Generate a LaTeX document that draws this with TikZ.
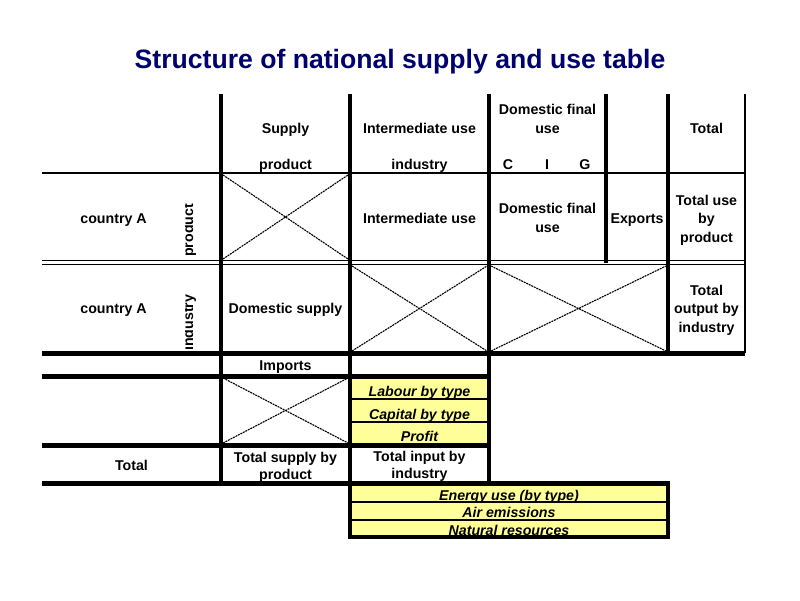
\documentclass[tikz,border=0pt]{standalone}
\usepackage{fontspec}
\setmainfont{Liberation Sans}
\definecolor{titleblue}{RGB}{0,0,110}
\definecolor{cellyellow}{RGB}{255,255,153}
\begin{document}
\begin{tikzpicture}[x=1pt,y=-1pt,
  hline/.style={line width=5pt},
  vline/.style={line width=4pt},
  thinline/.style={line width=1.6pt},
  crossline/.style={line width=1.1pt, dash pattern=on 2pt off 0.8pt},
  lbl/.style={font=\fontsize{14.2}{18}\selectfont\bfseries, inner sep=0pt, anchor=base},
  ylbl/.style={font=\fontsize{14.2}{18}\selectfont\bfseries\itshape, inner sep=0pt, anchor=base},
]
\useasboundingbox (0,0) rectangle (800,600);

% title
\node[font=\fontsize{26.6}{30}\selectfont\bfseries, text=titleblue, anchor=base, inner sep=0pt] (title) at (400,68) {Structure of national supply and use table};

% yellow fills
\fill[cellyellow] (350,376) rectangle (489,445);
\fill[cellyellow] (350,483) rectangle (668,537);

% header row
\node[lbl] (hsup) at (285.5,133) {Supply};
\node[lbl] (hsupp) at (285.5,169) {product};
\node[lbl] (hint) at (419.5,133) {Intermediate use};
\node[lbl] (hintp) at (419.5,169) {industry};
\node[lbl] (hdfa) at (547.5,114) {Domestic final};
\node[lbl] (hdfb) at (547.5,133) {use};
\node[lbl] (hc) at (508,169) {C};
\node[lbl] (hi) at (547,169) {I};
\node[lbl] (hg) at (585,169) {G};
\node[lbl] (htot) at (706.5,133) {Total};

% row 1
\node[lbl] (ra) at (113.5,223) {country A};
\node[lbl] (rint) at (419.5,223) {Intermediate use};
\node[lbl] (rdfa) at (547.5,213) {Domestic final};
\node[lbl] (rdfb) at (547.5,232) {use};
\node[lbl] (rexp) at (637,223) {Exports};
\node[lbl] (rta) at (706.5,205) {Total use};
\node[lbl] (rtb) at (706.5,223.5) {by};
\node[lbl] (rtc) at (706.5,242) {product};

% row 2
\node[lbl] (sa) at (113.5,313) {country A};
\node[lbl] (sds) at (285.5,313) {Domestic supply};
\node[lbl] (sta) at (706.5,295) {Total};
\node[lbl] (stb) at (706.5,313.5) {output by};
\node[lbl] (stc) at (706.5,332) {industry};

% rotated labels
\begin{scope}
\clip (185,180) rectangle (220,352);
\node[lbl, rotate=90, anchor=base west] (rprod) at (193,257) {product};
\node[lbl, rotate=90, anchor=base west] (rind) at (193,351) {industry};
\end{scope}

% lower rows
\node[lbl] (imp) at (285.5,370) {Imports};
\node[ylbl] (lab) at (419.5,396) {Labour by type};
\node[ylbl] (cap) at (419.5,419) {Capital by type};
\node[ylbl] (prof) at (419.5,441) {Profit};
\node[lbl] (tot) at (131.5,470) {Total};
\node[lbl] (tsa) at (285.5,462) {Total supply by};
\node[lbl] (tsb) at (285.5,479) {product};
\node[lbl] (tia) at (419.5,461) {Total input by};
\node[lbl] (tib) at (419.5,478) {industry};
\node[ylbl] (ener) at (509,500) {Energy use (by type)};
\node[ylbl] (air) at (509,517) {Air emissions};
\node[ylbl] (nat) at (509,535) {Natural resources};

% crossed cells
\draw[crossline] (223,175) -- (348,259) (223,259) -- (348,175);
\draw[crossline] (352,266) -- (487,351) (352,351) -- (487,266);
\draw[crossline] (491,266) -- (666,351) (491,351) -- (666,266);
\draw[crossline] (223,378) -- (348,443) (223,443) -- (348,378);

% horizontal lines
\draw[thinline] (42,173) -- (745,173);
\draw[line width=1.5pt] (42,260.7) -- (745,260.7);
\draw[line width=1.5pt] (42,264.3) -- (745,264.3);
\draw[hline] (42,353) -- (745,353);
\draw[hline] (42,376) -- (489,376);
\draw[hline] (42,445) -- (489,445);
\draw[hline] (42,483) -- (668,483);
\draw[thinline] (350,399) -- (489,399);
\draw[thinline] (350,422) -- (489,422);
\draw[thinline] (350,502) -- (668,502);
\draw[thinline] (350,520) -- (668,520);

% vertical lines
\draw[vline] (221,94) -- (221,483);
\draw[vline] (350,94) -- (350,537);
\draw[vline] (489,94) -- (489,483);
\draw[vline] (605.5,94) -- (605.5,262.5);
\draw[vline] (668,94) -- (668,353);
\draw[thinline] (745,94) -- (745,353);

% energy box border
\draw[line width=4pt] (350,483) rectangle (668,537);
\end{tikzpicture}
\end{document}
